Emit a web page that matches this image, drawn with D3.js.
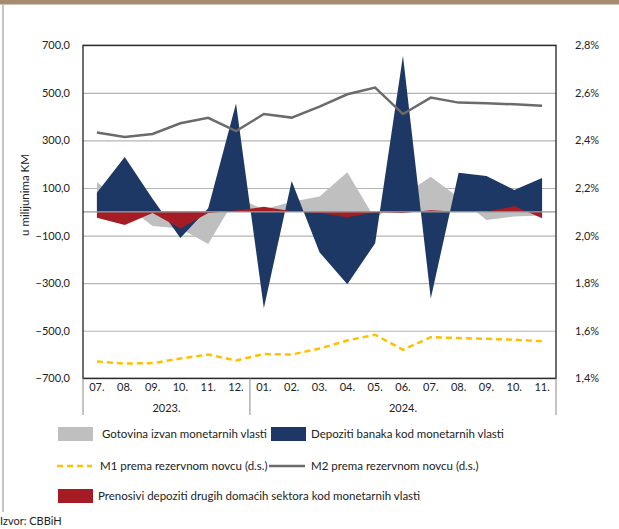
<!DOCTYPE html>
<html>
<head>
<meta charset="utf-8">
<script src="https://cdn.jsdelivr.net/npm/d3@7"></script>
<style>
  body { margin: 0; background: #fff; }
  svg { display: block; font-family: Lato, "Open Sans", sans-serif; }
</style>
</head>
<body>
<script>
// month labels and year groups
var months = ["07.", "08.", "09.", "10.", "11.", "12.", "01.", "02.", "03.", "04.", "05.", "06.", "07.", "08.", "09.", "10.", "11."];
var years = [{label: "2023.", from: 0, to: 6}, {label: "2024.", from: 6, to: 17}];

// values (mil. KM, left axis)
var gotovina = [125, 30, -60, -70, -135, 60, 10, 42, 64, 166, -30, 70, 147, 60, -34, -20, -16];
var depoziti = [80, 230, 55, -110, 15, 455, -405, 130, -170, -305, -132, 656, -364, 164, 150, 92, 142];
var prenosivi = [-25, -55, -5, -70, -5, 5, 21, 2, -5, -23, -2, -5, 7, 0, 0, 24, -27];

// right axis (%)
var m1 = [1.471, 1.462, 1.464, 1.483, 1.500, 1.475, 1.502, 1.500, 1.525, 1.559, 1.583, 1.520, 1.573, 1.569, 1.566, 1.562, 1.556];
var m2 = [2.433, 2.415, 2.427, 2.472, 2.495, 2.439, 2.511, 2.496, 2.542, 2.594, 2.622, 2.511, 2.580, 2.559, 2.556, 2.552, 2.546];

var leftTicks = [-700, -500, -300, -100, 100, 300, 500, 700];
var rightTicks = [1.4, 1.6, 1.8, 2.0, 2.2, 2.4, 2.6, 2.8];

var W = 619, H = 529;
var pL = 83, pR = 556, pT = 45.3, pB = 378.3;

var loc = d3.formatLocale({decimal: ",", thousands: ".", grouping: [3], currency: ["", ""]});
var fmt1 = loc.format(".1f");

var svg = d3.select("body").append("svg")
    .attr("width", W)
    .attr("height", H);

// top band + left rule
svg.append("rect").attr("x", 0).attr("y", 0).attr("width", W).attr("height", 4.5).attr("fill", "#a68b6e");
svg.append("line").attr("x1", 3).attr("x2", 3).attr("y1", 4.5).attr("y2", 512)
    .attr("stroke", "#a0a0a0").attr("stroke-width", 1.2);

var idx = d3.range(months.length);
var x = d3.scaleBand().domain(idx).range([pL, pR]).padding(0);
var cx = function(i) { return x(i) + x.bandwidth() / 2; };

var y = d3.scaleLinear().domain([-700, 700]).range([pB, pT]);
var y2 = d3.scaleLinear().domain([1.4, 2.8]).range([pB, pT]);

// gridlines
svg.append("g")
    .attr("transform", "translate(" + pL + ",0)")
    .call(d3.axisLeft(y).tickValues(leftTicks).tickSize(-(pR - pL)).tickFormat(""))
    .call(function(g) { g.select(".domain").remove(); })
    .selectAll("line").attr("stroke", "#b5b5b5").attr("stroke-width", 1.2);

// areas
function area(vals) {
  return d3.area()
    .x(function(d, i) { return cx(i); })
    .y0(y(0))
    .y1(function(d) { return y(d); })(vals);
}
svg.append("path").attr("d", area(gotovina)).attr("fill", "#bfbfbf");
svg.append("path").attr("d", area(depoziti)).attr("fill", "#1d3864");
svg.append("path").attr("d", area(prenosivi)).attr("fill", "#a61c24");

// zero line
svg.append("line").attr("x1", pL).attr("x2", pR).attr("y1", y(0)).attr("y2", y(0))
    .attr("stroke", "#999").attr("stroke-width", 1.2);

// lines on right axis
var line2 = d3.line()
    .x(function(d, i) { return cx(i); })
    .y(function(d) { return y2(d); });

svg.append("path").attr("d", line2(m2)).attr("fill", "none")
    .attr("stroke", "#6e6a6a").attr("stroke-width", 2.5);
svg.append("path").attr("d", line2(m1)).attr("fill", "none")
    .attr("stroke", "#ffc000").attr("stroke-width", 2.5).attr("stroke-dasharray", "6,4");

// frame
svg.append("rect").attr("x", pL).attr("y", pT).attr("width", pR - pL).attr("height", pB - pT)
    .attr("fill", "none").attr("stroke", "#222").attr("stroke-width", 1.3);

// left axis labels
var gl = svg.append("g")
    .attr("transform", "translate(70,0)")
    .call(d3.axisLeft(y).tickValues(leftTicks).tickSize(0).tickPadding(0).tickFormat(fmt1));
gl.select(".domain").remove();
gl.selectAll("text").attr("font-size", 11).attr("fill", "#222").style("font-family", "Lato");

// right axis labels
var gr = svg.append("g")
    .attr("transform", "translate(575,0)")
    .call(d3.axisRight(y2).tickValues(rightTicks).tickSize(0).tickPadding(0)
      .tickFormat(function(d) { return fmt1(d) + "%"; }));
gr.select(".domain").remove();
gr.selectAll("text").attr("font-size", 11).attr("fill", "#222").style("font-family", "Lato");

// month labels
var gx = svg.append("g")
    .attr("transform", "translate(0," + pB + ")")
    .call(d3.axisBottom(x).tickSize(0).tickPadding(5).tickFormat(function(i) { return months[i]; }));
gx.select(".domain").remove();
gx.selectAll("text").attr("font-size", 11).attr("fill", "#222").style("font-family", "Lato");

// year separators + labels
var edge = function(i) { return i < months.length ? x(i) : pR; };
svg.selectAll(".sep").data([0, 6, 17]).enter().append("line")
    .attr("x1", edge).attr("x2", edge)
    .attr("y1", pB).attr("y2", 415)
    .attr("stroke", "#8a8a8a").attr("stroke-width", 1);

svg.selectAll(".yr").data(years).enter().append("text")
    .attr("x", function(d) { return (edge(d.from) + edge(d.to)) / 2; })
    .attr("y", 412)
    .attr("text-anchor", "middle")
    .attr("font-size", 11).attr("fill", "#222")
    .text(function(d) { return d.label; });

// y title
svg.append("text")
    .attr("transform", "translate(29,195) rotate(-90)")
    .attr("text-anchor", "middle")
    .attr("font-size", 11.5).attr("fill", "#222")
    .text("u milijunima KM");

// legend
var lg = svg.append("g").attr("font-size", 11.5).attr("fill", "#222");
function swatch(x0, yy, col) {
  lg.append("rect").attr("x", x0).attr("y", yy).attr("width", 35).attr("height", 14).attr("fill", col);
}
function label(x0, yy, t) {
  lg.append("text").attr("x", x0).attr("y", yy).text(t);
}
swatch(58, 427, "#bfbfbf");
label(102, 438, "Gotovina izvan monetarnih vlasti");
swatch(271, 427, "#1d3864");
label(311, 438, "Depoziti banaka kod monetarnih vlasti");

lg.append("line").attr("x1", 57).attr("x2", 92).attr("y1", 466).attr("y2", 466)
    .attr("stroke", "#ffc000").attr("stroke-width", 2.5).attr("stroke-dasharray", "6,4");
label(100, 470, "M1 prema rezervnom novcu (d.s.)");
lg.append("line").attr("x1", 269).attr("x2", 305).attr("y1", 466).attr("y2", 466)
    .attr("stroke", "#6e6a6a").attr("stroke-width", 2.5);
label(311, 470, "M2 prema rezervnom novcu (d.s.)");

swatch(58, 489, "#a61c24");
label(98, 500, "Prenosivi depoziti drugih domaćih sektora kod monetarnih vlasti");

svg.append("text").attr("x", 0).attr("y", 525)
    .attr("font-size", 11).attr("fill", "#222")
    .text("Izvor: CBBiH");
</script>
</body>
</html>
